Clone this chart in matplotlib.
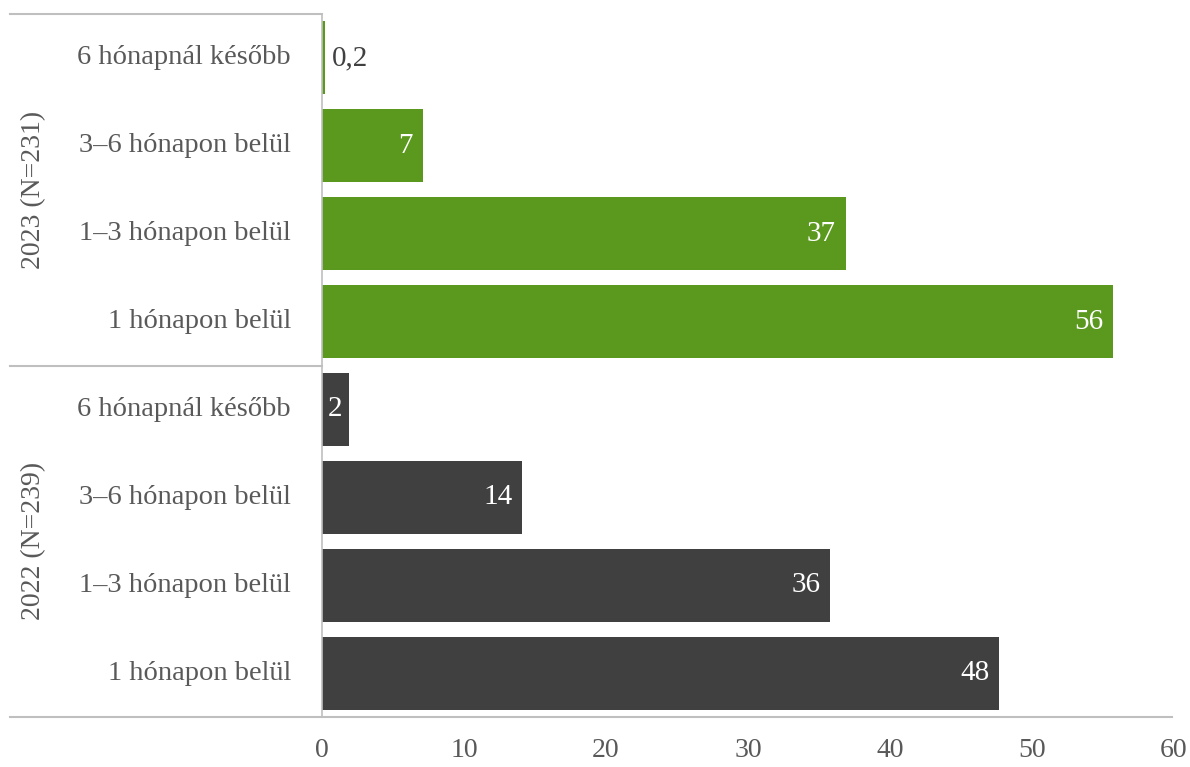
import numpy as np
import matplotlib.pyplot as plt
from matplotlib.lines import Line2D

plt.rcParams['font.family'] = ['Liberation Serif', 'DejaVu Serif']

cats = ['1 hónapon belül', '1–3 hónapon belül', '3–6 hónapon belül', '6 hónapnál később']
groups = ['2022 (N=239)', '2023 (N=231)']
vals_2022 = [47.7, 35.8, 14.1, 1.9]
vals_2023 = [55.7, 36.9, 7.1, 0.2]
lbl_2022 = ['48', '36', '14', '2']
lbl_2023 = ['56', '37', '7', '0,2']
colors = ['#404040', '#5a991e']
xticks = [0, 10, 20, 30, 40, 50, 60]

txt = '#595959'
fig = plt.figure(figsize=(11.9, 7.67), dpi=100)
ax = fig.add_axes([322/1190, 1-717/767, (1174-322)/1190, (717-14)/767])

y = np.arange(8)
vals = vals_2022 + vals_2023
lbls = lbl_2022 + lbl_2023
cols = [colors[0]]*4 + [colors[1]]*4
ax.barh(y, vals, height=0.83, color=cols)
for yi, v, l in zip(y, vals, lbls):
    if v < 1:
        ax.text(v + 0.5, yi, l, ha='left', va='center', fontsize=21, color='#404040')
    elif v < 3:
        ax.text(v / 2, yi, l, ha='center', va='center', fontsize=21, color='white')
    else:
        ax.text(v - 0.7, yi, l, ha='right', va='center', fontsize=21, color='white')

ax.set_ylim(-0.5, 7.5)
ax.set_xlim(0, 60)
ax.set_xticks(xticks)
ax.set_xticklabels([str(t) for t in xticks], fontsize=20, color=txt)
ax.tick_params(axis='x', length=0, pad=15)
ax.set_yticks([])
for s in ['top', 'right', 'bottom']:
    ax.spines[s].set_visible(False)
ax.spines['left'].set_color('#bfbfbf')
ax.spines['left'].set_linewidth(1.2)

# category labels
for yi in y:
    ax.text(-2.2, yi, cats[yi % 4], ha='right', va='center', fontsize=20.5, color=txt)
# group labels
for gi, g in enumerate(groups):
    ax.text(-20.3, gi*4 + 1.5, g, ha='center', va='center', rotation=90, fontsize=20, color=txt)

# frame lines
lc = '#bfbfbf'
fig.add_artist(Line2D([10/1190, 322/1190], [1-14/767]*2, color=lc, lw=1.5))
fig.add_artist(Line2D([10/1190, 322/1190], [1-366/767]*2, color=lc, lw=1.5))
fig.add_artist(Line2D([10/1190, 1172/1190], [1-717/767]*2, color=lc, lw=1.5))

fig.savefig('out.png', dpi=100)
